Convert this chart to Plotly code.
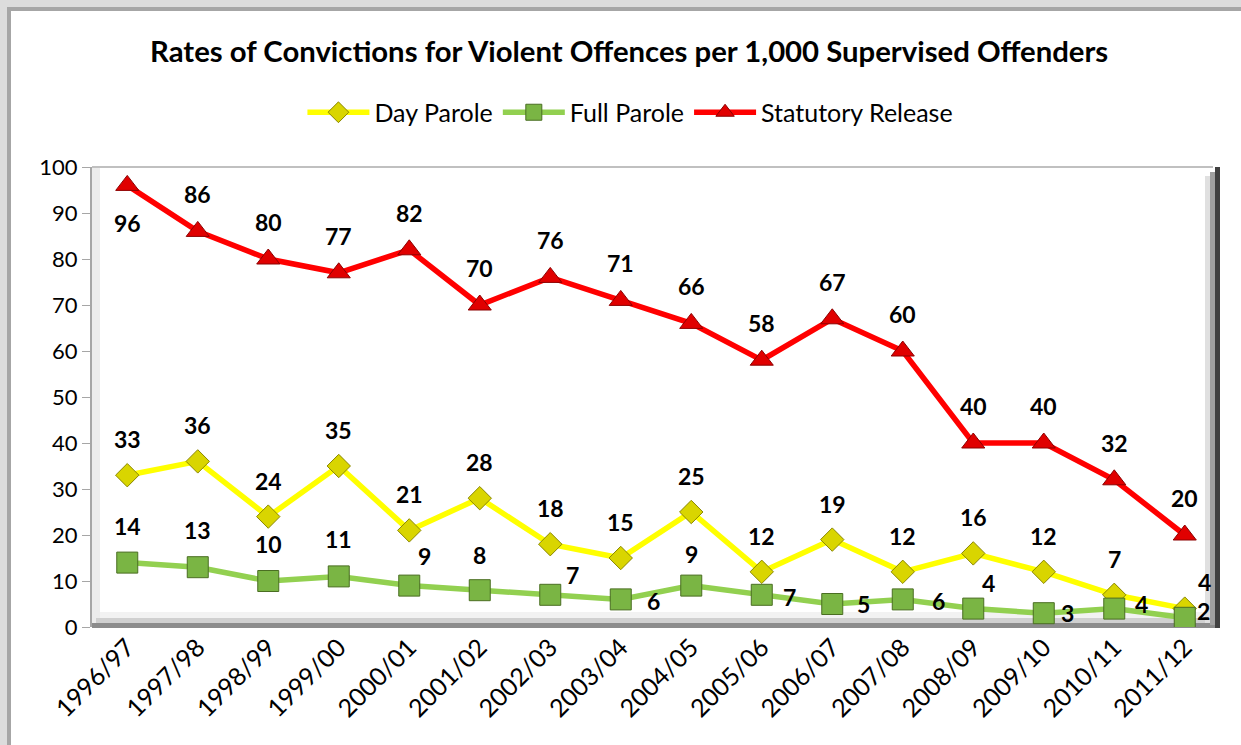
import plotly.graph_objects as go

# data
years = ["1996/97", "1997/98", "1998/99", "1999/00", "2000/01", "2001/02", "2002/03", "2003/04",
         "2004/05", "2005/06", "2006/07", "2007/08", "2008/09", "2009/10", "2010/11", "2011/12"]
day_parole = [33, 36, 24, 35, 21, 28, 18, 15, 25, 12, 19, 12, 16, 12, 7, 4]
full_parole = [14, 13, 10, 11, 9, 8, 7, 6, 9, 7, 5, 6, 4, 3, 4, 2]
statutory = [96, 86, 80, 77, 82, 70, 76, 71, 66, 58, 67, 60, 40, 40, 32, 20]

FONT = "Lato"

# label offsets in px (dx, dy up), per point
day_off = [(0, 36)] * 15 + [(20, 27)]
full_off = [(0, 37), (0, 37), (0, 37), (0, 37), (15, 30), (0, 35), (22, 20), (33, -2),
            (0, 32), (28, -2), (31, 0), (36, -2), (15, 26), (24, 0), (27, 5), (19, 7)]
stat_off = [(0, -38)] + [(0, 37)] * 15

fig = go.Figure()

fig.add_trace(go.Scatter(
    x=years, y=day_parole, name="Day Parole", mode="lines+markers", legendgroup="a",
    line=dict(color="#ffff00", width=5.5),
    marker=dict(symbol="diamond", size=18, color="#d9d500", line=dict(color="#8a8700", width=1)),
))
fig.add_trace(go.Scatter(
    x=years, y=full_parole, name="Full Parole", mode="lines+markers", legendgroup="b",
    line=dict(color="#92d050", width=5.5),
    marker=dict(symbol="square", size=21, color="#7ab544", line=dict(color="#4a6e22", width=1)),
))
fig.add_trace(go.Scatter(
    x=years, y=statutory, name="Statutory Release", mode="lines+markers", legendgroup="c",
    line=dict(color="#ff0000", width=5.5),
    marker=dict(symbol="triangle-up", size=20, color="#e00000", line=dict(color="#8c0000", width=1)),
))

annotations = []
for vals, offs in [(day_parole, day_off), (full_parole, full_off), (statutory, stat_off)]:
    for yr, v, (dx, dy) in zip(years, vals, offs):
        annotations.append(dict(x=yr, y=v, text="<b>%d</b>" % v, showarrow=False,
                                xshift=dx, yshift=dy, xanchor="center", yanchor="middle",
                                font=dict(family=FONT, size=23, color="black")))

# pixel -> paper helpers (plot area 92..1220 x 167..627)
def px(x):
    return (x - 92) / 1128.0

def py(y):
    return (627 - y) / 460.0

shapes = [
    # outer chart frame
    dict(type="rect", x0=px(7), x1=px(1260), y0=py(7), y1=py(760), fillcolor="#a6a6a6", line_width=0),
    dict(type="rect", x0=px(11), x1=px(1260), y0=py(11), y1=py(760), fillcolor="white", line_width=0),
    # plot area bevels
    dict(type="rect", x0=px(92), x1=px(1213), y0=py(166), y1=py(168), fillcolor="#c0c0c0", line_width=0),
    dict(type="rect", x0=px(92), x1=px(100), y0=py(168), y1=py(627), fillcolor="#ececec", line_width=0),
    dict(type="rect", x0=px(100), x1=px(1205), y0=py(612), y1=py(618), fillcolor="#f2f2f2", line_width=0),
    dict(type="rect", x0=px(96), x1=px(1213), y0=py(618), y1=py(623), fillcolor="#d0d0d0", line_width=0),
    dict(type="rect", x0=px(92), x1=px(1220), y0=py(623), y1=py(628), fillcolor="#8c8c8c", line_width=0),
    dict(type="rect", x0=px(1205), x1=px(1210), y0=py(176), y1=py(623), fillcolor="#e0e0e0", line_width=0),
    dict(type="rect", x0=px(1210), x1=px(1215), y0=py(172), y1=py(625), fillcolor="#a0a0a0", line_width=0),
    dict(type="rect", x0=px(1215), x1=px(1220), y0=py(167), y1=py(628), fillcolor="#404040", line_width=0),
]
for s in shapes:
    s.update(xref="paper", yref="paper", layer="below")

fig.update_layout(
    width=1241, height=745,
    margin=dict(l=92, r=21, t=167, b=118),
    paper_bgcolor="#dcdcdc",
    plot_bgcolor="rgba(0,0,0,0)",
    font=dict(family=FONT, size=21, color="black"),
    title=dict(text="<b>Rates of Convictions for Violent Offences per 1,000 Supervised Offenders</b>",
               x=0.507, xref="container", xanchor="center", y=0.93, yanchor="middle",
               font=dict(family=FONT, size=29.3, color="black")),
    legend=dict(orientation="h", x=0.508, xref="container", xanchor="center",
                y=0.849, yref="container", yanchor="middle", itemwidth=62,
                tracegroupgap=30,
                font=dict(family=FONT, size=25), bgcolor="rgba(0,0,0,0)"),
    showlegend=True,
    shapes=shapes,
    annotations=annotations,
)
fig.update_xaxes(type="category", tickangle=-45, showgrid=False, showline=False, ticks="",
                 tickfont=dict(family=FONT, size=25), range=[-0.5, 15.5])
fig.update_yaxes(range=[0, 100], dtick=10, showgrid=False, showline=True, linecolor="#a6a6a6",
                 linewidth=2, ticks="outside", ticklen=8, tickcolor="#a6a6a6", zeroline=False,
                 tickfont=dict(family=FONT, size=22))

fig.write_html("out.html", config={"displayModeBar": False},
               post_script="document.body.style.margin='0';")
